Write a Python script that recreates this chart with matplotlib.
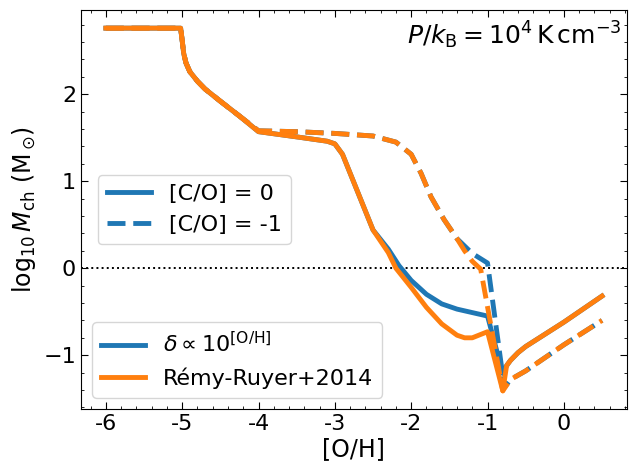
import numpy as np
import matplotlib
matplotlib.use('Agg')
import matplotlib.pyplot as plt
from matplotlib.ticker import MultipleLocator

# [O/H] grid and log10 M_ch
oh_solid_lin = [-6.0, -5.02, -5.0, -4.98, -4.95, -4.9, -4.8, -4.7, -4.5, -4.25, -4.0,
                -3.5, -3.1, -3.0, -2.9, -2.5, -2.3, -2.16, -2.0, -1.8, -1.6, -1.4,
                -1.2, -1.0, -0.8, -0.75, -0.7, -0.6, -0.5, -0.25, 0.0, 0.25, 0.5]
mch_solid_lin = [2.76, 2.76, 2.62, 2.47, 2.36, 2.26, 2.15, 2.06, 1.92, 1.75, 1.57,
                 1.51, 1.46, 1.43, 1.31, 0.44, 0.22, 0.03, -0.14, -0.30, -0.41, -0.47,
                 -0.51, -0.55, -1.21, -1.12, -1.06, -0.97, -0.90, -0.76, -0.62, -0.47, -0.32]

oh_solid_rr = [-6.0, -5.02, -5.0, -4.98, -4.95, -4.9, -4.8, -4.7, -4.5, -4.25, -4.0,
               -3.5, -3.1, -3.0, -2.9, -2.5, -2.3, -2.2, -2.0, -1.8, -1.6, -1.4,
               -1.3, -1.2, -1.0, -0.8, -0.75, -0.7, -0.6, -0.5, -0.25, 0.0, 0.25, 0.5]
mch_solid_rr = [2.76, 2.76, 2.62, 2.47, 2.36, 2.26, 2.15, 2.06, 1.92, 1.75, 1.57,
                1.51, 1.46, 1.43, 1.31, 0.44, 0.18, 0.0, -0.22, -0.45, -0.64, -0.77,
                -0.80, -0.80, -0.73, -1.41, -1.12, -1.06, -0.97, -0.90, -0.76, -0.62, -0.47, -0.32]

oh_dash_lin = [-6.0, -5.02, -5.0, -4.98, -4.95, -4.9, -4.8, -4.7, -4.5, -4.25, -4.0,
               -3.5, -3.0, -2.5, -2.2, -2.0, -1.87, -1.74, -1.57, -1.4, -1.2, -1.0,
               -0.78, -0.7, -0.6, -0.5, -0.25, 0.0, 0.25, 0.5]
mch_dash_lin = [2.76, 2.76, 2.62, 2.47, 2.36, 2.26, 2.15, 2.06, 1.92, 1.75, 1.58,
                1.57, 1.55, 1.52, 1.45, 1.31, 1.09, 0.82, 0.56, 0.34, 0.17, 0.06,
                -1.37, -1.28, -1.23, -1.18, -1.03, -0.88, -0.74, -0.60]

oh_dash_rr = [-6.0, -5.02, -5.0, -4.98, -4.95, -4.9, -4.8, -4.7, -4.5, -4.25, -4.0,
              -3.5, -3.0, -2.5, -2.2, -2.0, -1.87, -1.74, -1.57, -1.4, -1.3, -1.2, -1.09,
              -0.8, -0.7, -0.6, -0.5, -0.25, 0.0, 0.25, 0.5]
mch_dash_rr = [2.76, 2.76, 2.62, 2.47, 2.36, 2.26, 2.15, 2.06, 1.92, 1.75, 1.58,
               1.57, 1.55, 1.52, 1.45, 1.31, 1.09, 0.82, 0.56, 0.34, 0.20, 0.08, -0.01,
               -1.41, -1.28, -1.23, -1.18, -1.03, -0.88, -0.74, -0.60]

xtick_vals = [-6, -5, -4, -3, -2, -1, 0]
xtick_labels = ['-6', '-5', '-4', '-3', '-2', '-1', '0']

blue, orange = 'C0', 'C1'
lw = 3.5

fig = plt.figure(figsize=(6.3, 4.66), dpi=100)
ax = fig.add_axes([0.1286, 0.1223, 0.8664, 0.8562])

ax.axhline(0, color='k', ls=':', lw=1.4)

ax.plot(oh_solid_lin, mch_solid_lin, color=blue, lw=lw)
ax.plot(oh_dash_lin, mch_dash_lin, color=blue, lw=lw, ls='--')
ax.plot(oh_solid_rr, mch_solid_rr, color=orange, lw=lw)
ax.plot(oh_dash_rr, mch_dash_rr, color=orange, lw=lw, ls='--')

ax.set_xticks(xtick_vals)
ax.set_xticklabels(xtick_labels)
ax.xaxis.set_minor_locator(MultipleLocator(0.2))
ax.yaxis.set_minor_locator(MultipleLocator(0.2))
ax.tick_params(labelsize=16)
ax.tick_params(which='both', direction='in', top=True, right=True)
ax.tick_params(which='major', length=5)
ax.tick_params(which='minor', length=2.5)

ax.set_xlabel('[O/H]', fontsize=17, labelpad=2)
ax.set_ylabel(r'$\log_{10} M_{\rm ch}\ ({\rm M}_\odot\!)$', fontsize=17)

ax.text(0.99, 0.975, r'$P/k_{\rm B} = 10^4\,{\rm K\,cm^{-3}}$', transform=ax.transAxes,
        ha='right', va='top', fontsize=18)

# legend for C/O
h1, = ax.plot([], [], color=blue, lw=lw)
h2, = ax.plot([], [], color=blue, lw=lw, ls='--')
leg1 = ax.legend([h1, h2], ['[C/O] = 0', '[C/O] = -1'], loc='center left',
                 bbox_to_anchor=(0.031, 0.5), borderaxespad=0, fontsize=16,
                 handlelength=2.0)
ax.add_artist(leg1)

# legend for dust model
h3, = ax.plot([], [], color=blue, lw=lw)
h4, = ax.plot([], [], color=orange, lw=lw)
ax.legend([h3, h4], [r'$\delta \propto 10^{\rm [O/H]}$', 'Rémy-Ruyer+2014'],
          loc='lower left', fontsize=16, handlelength=2.0)

fig.savefig('out.png', dpi=100)
